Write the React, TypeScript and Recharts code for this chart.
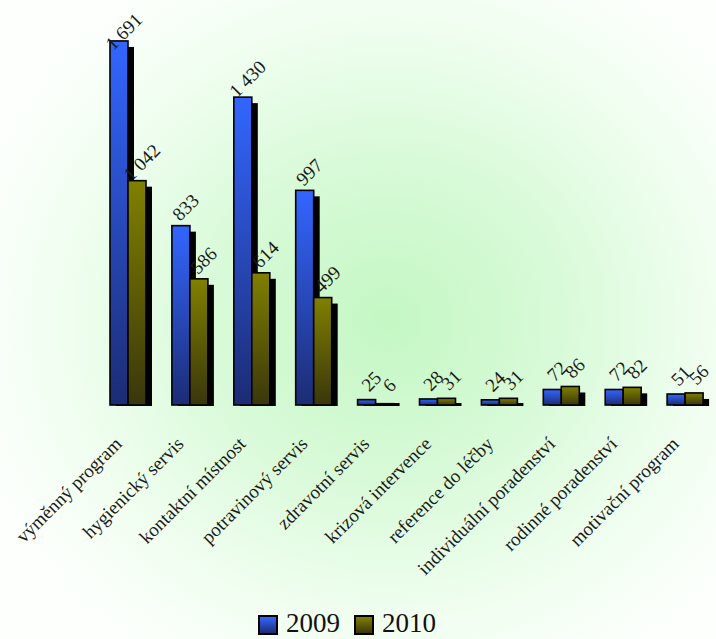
import { Bar, BarChart, LabelList, XAxis, YAxis } from 'recharts';

const categories = [
  'výměnný program',
  'hygienický servis',
  'kontaktní místnost',
  'potravinový servis',
  'zdravotní servis',
  'krizová intervence',
  'reference do léčby',
  'individuální poradenství',
  'rodinné poradenství',
  'motivační program',
];
const values2009 = [1691, 833, 1430, 997, 25, 28, 24, 72, 72, 51];
const values2010 = [1042, 586, 614, 499, 6, 31, 31, 86, 82, 56];

const data = categories.map((name, i) => ({ name, y2009: values2009[i], y2010: values2010[i] }));

const FONT = 'Liberation Serif';

function fmt(v: number): string {
  return String(v).replace(/\B(?=(\d{3})+(?!\d))/g, ' ');
}

function shadowBar(gradId: string) {
  return (props: any) => {
    const { x, y, width, height } = props;
    if (width == null || height == null) return <g />;
    const base = y + height;
    const sy = Math.min(y + 6, base - 2);
    return (
      <g>
        <rect x={x + 6} y={sy} width={width} height={base - sy + 1} fill="#000" />
        <rect
          x={x}
          y={y}
          width={width}
          height={Math.max(height, 1)}
          fill={`url(#${gradId})`}
          stroke="#000"
          strokeWidth={1.6}
        />
      </g>
    );
  };
}

function valueLabel(props: any) {
  const { x, y, width, value } = props;
  const cx = x + width / 2 + 5;
  const cy = Math.max(y - 18, 32);
  return (
    <g transform={`translate(${cx}, ${cy}) rotate(-45)`}>
      <text x={0} y={6} textAnchor="middle" fontFamily={FONT} fontSize={19} fill="#1a1a1a">
        {fmt(value)}
      </text>
    </g>
  );
}

function CategoryTick(props: any) {
  const { x, y, payload } = props;
  const px = x - 5;
  const py = y + 32;
  return (
    <g transform={`translate(${px}, ${py}) rotate(-45)`}>
      <text x={0} y={0} textAnchor="end" fontFamily={FONT} fontSize={19} fill="#1a1a1a">
        {payload.value}
      </text>
    </g>
  );
}

function LegendItem({ label, from, to }: { label: string; from: string; to: string }) {
  return (
    <div style={{ display: 'flex', alignItems: 'flex-end', marginRight: 14 }}>
      <div
        style={{
          width: 16,
          height: 16,
          border: '2px solid #000',
          background: `linear-gradient(${from}, ${to})`,
          marginRight: 8,
          marginBottom: 2,
        }}
      />
      <span style={{ fontFamily: FONT, fontSize: 27, lineHeight: '27px', color: '#111' }}>{label}</span>
    </div>
  );
}

export default function App() {
  return (
    <div
      style={{
        position: 'absolute',
        left: 0,
        top: 0,
        width: 716,
        height: 639,
        overflow: 'hidden',
        background:
          'radial-gradient(ellipse 60% 62% at 54% 50%, #c4f7c4 0%, #d8fad8 40%, #f0fef0 75%, #fcfffc 100%)',
      }}
    >
      <BarChart
        width={716}
        height={639}
        data={data}
        margin={{ top: 39, right: 0, left: 97, bottom: 44 }}
        barGap={0}
        barSize={18}
      >
        <defs>
          <linearGradient id="g2009" x1="0" y1="0" x2="0" y2="1">
            <stop offset="0%" stopColor="#3366ff" />
            <stop offset="100%" stopColor="#1c2c74" />
          </linearGradient>
          <linearGradient id="g2010" x1="0" y1="0" x2="0" y2="1">
            <stop offset="0%" stopColor="#808000" />
            <stop offset="100%" stopColor="#3a360c" />
          </linearGradient>
        </defs>
        <XAxis
          dataKey="name"
          axisLine={false}
          tickLine={false}
          interval={0}
          height={190}
          tick={<CategoryTick />}
        />
        <YAxis hide domain={[0, 1700]} />
        <Bar dataKey="y2009" shape={shadowBar('g2009')} isAnimationActive={false}>
          <LabelList dataKey="y2009" content={valueLabel} />
        </Bar>
        <Bar dataKey="y2010" shape={shadowBar('g2010')} isAnimationActive={false}>
          <LabelList dataKey="y2010" content={valueLabel} />
        </Bar>
      </BarChart>
      <div style={{ position: 'absolute', left: 258, top: 610, display: 'flex' }}>
        <LegendItem label="2009" from="#3366ff" to="#1c2c74" />
        <LegendItem label="2010" from="#808000" to="#3a360c" />
      </div>
    </div>
  );
}
